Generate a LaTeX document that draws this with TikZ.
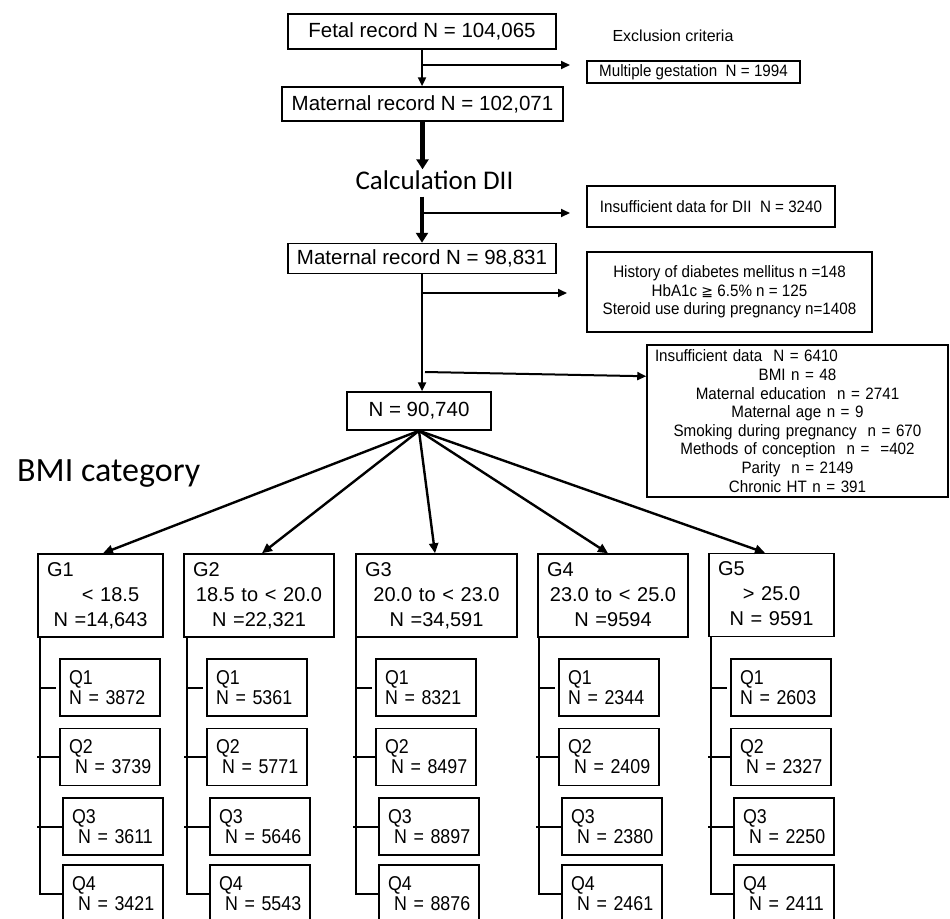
\documentclass[tikz,border=0pt]{standalone}
\usepackage{fontspec}
\setmainfont{Liberation Sans}
\newfontfamily\narrowA[FakeStretch=0.92]{Liberation Sans}
\newfontfamily\narrowQ[FakeStretch=0.89]{Liberation Sans}
\newfontfamily\calib{Carlito}
\newfontfamily\djv{DejaVu Sans}
\usetikzlibrary{arrows.meta,calc}
\newcommand\qcolumn[6]{%
  \path (#2,0) coordinate (#1x);
  \coordinate (#1top) at (#1.south -| #1x);
  \node[qbox] (#1q1) at (#2+70,687.5) {\mbox{Q1}\\\mbox{N = #3}};
  \node[qbox] (#1q2) at (#2+70,757) {\mbox{Q2}\\\mbox{\hspace*{6pt}N = #4}};
  \node[qbox] (#1q3) at (#2+73,826.5) {\mbox{Q3}\\\mbox{\hspace*{6pt}N = #5}};
  \node[qbox] (#1q4) at (#2+73,893.5) {\mbox{Q4}\\\mbox{\hspace*{6pt}N = #6}};
  \draw[tick] (#1top) |- (#1q4.west);
  \draw[tick] (#1x |- #1q1.west) -- ($(#1q1.west)+(-3,0)$);
  \draw[tick] ($(#1x |- #1q2.west)+(-3,0)$) -- (#1q2.west);
  \draw[tick] ($(#1x |- #1q3.west)+(-3,0)$) -- (#1q3.west);
}
\newcommand\gdp{\vphantom{,}}
\begin{document}
\begin{tikzpicture}[x=1pt,y=-1pt,
  boxline/.style={draw, line width=1.5pt},
  mainbox/.style={boxline, inner sep=0pt, font=\fontsize{20.5}{24}\selectfont},
  exbox/.style={boxline, inner sep=0pt, align=center, font=\narrowA\fontsize{16.5}{18.6}\selectfont},
  gbox/.style={boxline, inner xsep=9pt, inner ysep=0pt, align=center, minimum height=83pt, font=\fontsize{20}{25}\selectfont},
  qbox/.style={boxline, inner xsep=9pt, inner ysep=0pt, align=left, minimum width=100pt, minimum height=57pt, text width=82pt, font=\narrowQ\fontsize{20}{20}\selectfont},
  arr/.style={line width=2.4pt, -{Triangle[length=9pt,width=8pt]}},
  thickarr/.style={line width=4.5pt, -{Triangle[length=10pt,width=12pt]}},
  brarr/.style={line width=2pt, -{Triangle[length=9pt,width=8pt]}},
  fan/.style={line width=2.4pt, -{Triangle[length=10pt,width=9pt]}},
  tick/.style={line width=2pt},
]
\clip (0,0) rectangle (950,918);

% top chain
\node[mainbox, minimum width=268pt, minimum height=35pt] (fetal) at (422,31.5) {Fetal record N = 104,065};
\node[font=\fontsize{16}{18}\selectfont, inner sep=0pt] (excl) at (673,36) {Exclusion criteria};
\node[exbox, minimum width=213pt, minimum height=22pt] (mg) at (693.5,72) {Multiple gestation\ \ N = 1994};
\node[mainbox, minimum width=281pt, minimum height=34pt] (mat1) at (422.5,104) {Maternal record N = 102,071};
\node[font=\calib\fontsize{27}{30}\selectfont, inner sep=1pt] (calc) at (434.5,180) {Calculation DII};
\node[exbox, minimum width=248pt, minimum height=41pt] (dii) at (711,206.5) {Insufficient data for DII\ \ N = 3240};
\node[mainbox, minimum width=268pt, minimum height=30pt] (mat2) at (422,258.5) {Maternal record N = 98,831};
\node[exbox, minimum width=285pt, minimum height=80pt] (diab) at (729.5,292) {History of diabetes mellitus n =148\\HbA1c {\djv\fontsize{14}{18.6}\selectfont ≧} 6.5\% n = 125\\Steroid use during pregnancy n=1408};
\node[exbox, text width=285pt, minimum width=301pt, minimum height=152pt] (insd) at (797.5,421) {\makebox[285pt][l]{Insufficient data\ \ N = 6410}\\BMI n = 48\\Maternal education\ \ n = 2741\\Maternal age n = 9\\Smoking during pregnancy\ \ n = 670\\Methods of conception\ \ n =\ \ =402\\Parity\ \ n = 2149\\Chronic HT n = 391};
\node[mainbox, minimum width=144pt, minimum height=38pt] (n) at (419,411) {N = 90,740};

% arrows of the top chain
\draw[arr] (fetal.south) -- (mat1.north -| fetal.south);
\coordinate (b1) at (422,65);
\coordinate (e1) at (570,65);
\draw[brarr] (b1) -- (e1);
\draw[thickarr] (mat1.south) -- (mat1.south |- calc.north);
\draw[thickarr] ($(calc.south -| mat2.north)+(0,6)$) -- (mat2.north);
\coordinate (b2) at (422,213);
\coordinate (e2) at (570,213);
\draw[brarr] (b2) -- (e2);
\draw[arr] (mat2.south) -- (n.north -| mat2.south);
\coordinate (b3) at (422,293);
\coordinate (e3) at (567,293);
\draw[brarr] (b3) -- (e3);
\coordinate (b4) at (425,372);
\draw[brarr] (b4) -- ($(insd.north west)+(0,32)$);

% BMI category
\node[font=\calib\fontsize{34}{36}\selectfont, inner sep=0pt, anchor=base west] (bmi) at (17,481) {BMI category};

% G boxes
\node[gbox, text width=107pt] (g1) at (100.5,595.5) {\makebox[107pt][l]{G1}\\\hspace*{20pt}< 18.5\\N =14,643\gdp};
\node[gbox, text width=132pt] (g2) at (259,595.5) {\makebox[132pt][l]{G2}\\18.5 to < 20.0\\N =22,321\gdp};
\node[gbox, text width=143pt] (g3) at (436.5,595.5) {\makebox[143pt][l]{G3}\\20.0 to < 23.0\\N =34,591\gdp};
\node[gbox, text width=132pt] (g4) at (613,595.5) {\makebox[132pt][l]{G4}\\23.0 to < 25.0\\N =9594\gdp};
\node[gbox, text width=107pt] (g5) at (771.5,595) {\makebox[107pt][l]{G5}\\> 25.0\\N = 9591\gdp};

\draw[fan] (n.south) -- ($(g1.north)+(2.5,0)$);
\draw[fan] (n.south) -- ($(g2.north)+(3,0)$);
\draw[fan] (n.south) -- ($(g3.north)+(-1.5,0)$);
\draw[fan] (n.south) -- ($(g4.north)+(-5,0)$);
\draw[fan] (n.south) -- ($(g5.north)+(-6.5,0)$);

% Q boxes
\qcolumn{g1}{40}{3872}{3739}{3611}{3421}
\qcolumn{g2}{187}{5361}{5771}{5646}{5543}
\qcolumn{g3}{356}{8321}{8497}{8897}{8876}
\qcolumn{g4}{539}{2344}{2409}{2380}{2461}
\qcolumn{g5}{711}{2603}{2327}{2250}{2411}
\end{tikzpicture}
\end{document}
